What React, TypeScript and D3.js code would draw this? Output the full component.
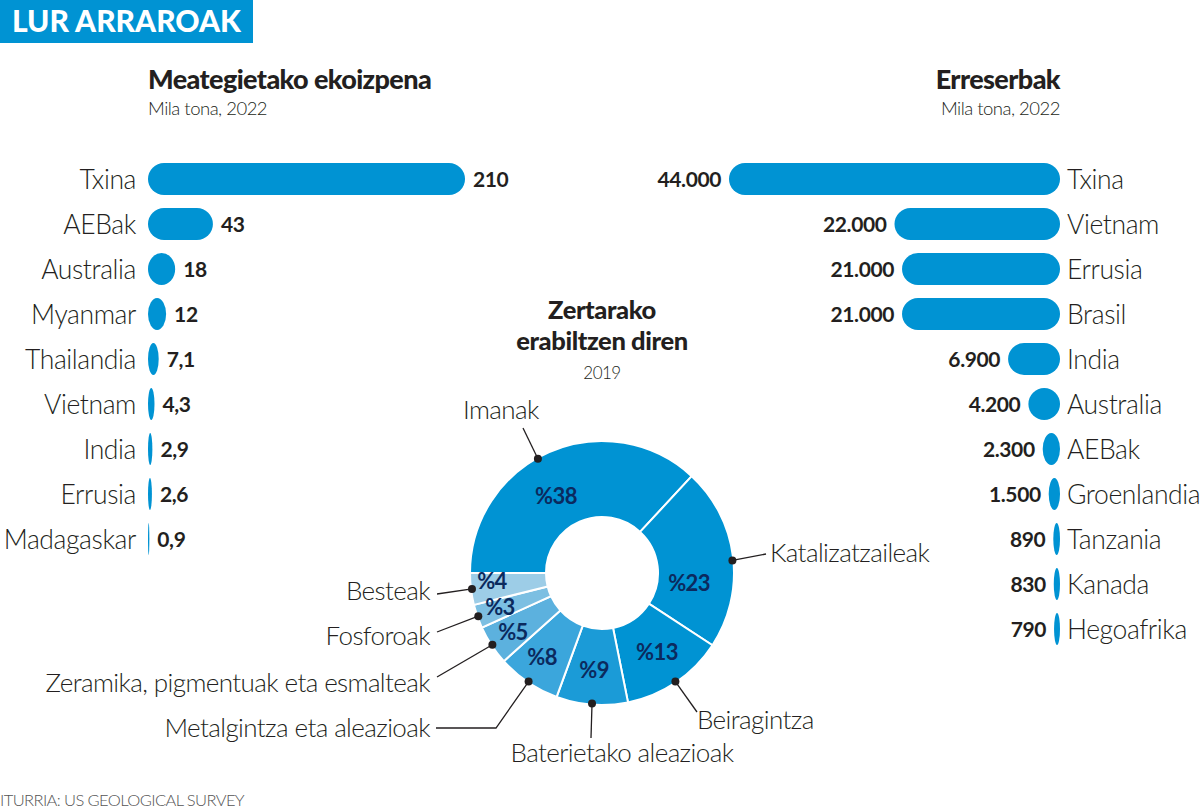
import React from "react";
import * as d3 from "d3";

// ---------- DATA ----------
const prodCountries = ["Txina", "AEBak", "Australia", "Myanmar", "Thailandia", "Vietnam", "India", "Errusia", "Madagaskar"];
const prodValues = [210, 43, 18, 12, 7.1, 4.3, 2.9, 2.6, 0.9];

const resCountries = ["Txina", "Vietnam", "Errusia", "Brasil", "India", "Australia", "AEBak", "Groenlandia", "Tanzania", "Kanada", "Hegoafrika"];
const resValues = [44000, 22000, 21000, 21000, 6900, 4200, 2300, 1500, 890, 830, 790];

const useLabels = ["Imanak", "Katalizatzaileak", "Beiragintza", "Baterietako aleazioak", "Metalgintza eta aleazioak", "Zeramika, pigmentuak eta esmalteak", "Fosforoak", "Besteak"];
const useValues = [38, 23, 13, 9, 8, 5, 3, 4];

// ---------- STYLE / LAYOUT ----------
const BLUE = "#0093d3";
const DARK = "#231f20";
const NAVY = "#0b2a5e";
const useColors = ["#0093d3", "#0093d3", "#0093d3", "#1b9bd7", "#3ba6dc", "#5cb1de", "#7cbfe2", "#9dcde7"];
const FONT = "Lato, 'Open Sans', sans-serif";

// percent-label placement (polar: degrees clockwise from top, radius)
const pctPos = [
  [-30.9, 89.7], [96.6, 87.6], [145.2, 96.3], [184.7, 97.3], [215.5, 103.2], [236.5, 106.8], [251.6, 107.5], [265.8, 110.3],
];
// callout layout: dot angle shift, line end points, text pos, anchor
const callouts = [
  { shift: -5.7, pts: [[523, 428]], tx: 463, ty: 419, anchor: "start" },
  { shift: 1.5, pts: [[766, 554]], tx: 770, ty: 562, anchor: "start" },
  { shift: 0, pts: [[697, 712]], tx: 697, ty: 729, anchor: "start" },
  { shift: 0, pts: [[591, 738]], tx: 622, ty: 762, anchor: "middle" },
  { shift: 0, pts: [[496, 728], [436, 728]], tx: 430, ty: 737, anchor: "end" },
  { shift: 0, pts: [[437, 677]], tx: 430, ty: 692, anchor: "end" },
  { shift: 0, pts: [[437, 632]], tx: 430, ty: 645, anchor: "end" },
  { shift: 0, pts: [[437, 594]], tx: 430, ty: 600, anchor: "end" },
];

export default function App() {
  const W = 1200, H = 811;
  const rowY0 = 179, rowStep = 45, barH = 32;

  const xL = d3.scaleLinear().domain([0, 210]).range([0, 317]);
  const left0 = 148;
  const xR = d3.scaleLinear().domain([0, 44000]).range([0, 331]);
  const right0 = 1060;

  const fmtRes = (v: number) => d3.format(",")(v).replace(/,/g, ".");
  const fmtProd = (v: number) => String(v).replace(".", ",");

  const cx = 602, cy = 573, rOut = 132, rIn = 56;
  const pie = d3.pie<number>().sort(null).startAngle(-Math.PI / 2).endAngle(1.5 * Math.PI);
  const arcs = pie(useValues);
  const arcGen = d3.arc<d3.PieArcDatum<number>>().innerRadius(rIn).outerRadius(rOut);
  const polar = (deg: number, r: number) => {
    const a = (deg * Math.PI) / 180;
    return [cx + r * Math.sin(a), cy - r * Math.cos(a)];
  };

  const labelStyle = { fontSize: 26.5, fontWeight: 300, letterSpacing: -0.4 } as const;

  return (
    <svg width={W} height={H} style={{ position: "absolute", left: 0, top: 0, background: "#fff" }} fontFamily={FONT}>
      <rect x={0} y={0} width={253} height={43} fill={BLUE} />
      <text x={12} y={32} fill="#fff" fontSize={30} fontWeight={900} letterSpacing={0}>LUR ARRAROAK</text>

      <text x={148} y={89} fill={DARK} fontSize={27} fontWeight={900} letterSpacing={-0.6}>Meategietako ekoizpena</text>
      <text x={148} y={115} fill={DARK} fontSize={18.5} fontWeight={300} letterSpacing={-0.5}>Mila tona, 2022</text>

      <text x={1060} y={89} textAnchor="end" fill={DARK} fontSize={27} fontWeight={900} letterSpacing={-0.6}>Erreserbak</text>
      <text x={1060} y={115} textAnchor="end" fill={DARK} fontSize={18.5} fontWeight={300} letterSpacing={-0.5}>Mila tona, 2022</text>

      {prodValues.map((v, i) => {
        const y = rowY0 + i * rowStep;
        const w = xL(v);
        return (
          <g key={"p" + i}>
            <rect x={left0} y={y - barH / 2} width={w} height={barH} rx={Math.min(w / 2, barH / 2)} ry={barH / 2} fill={BLUE} />
            <text x={136} y={y + 9.5} textAnchor="end" fill={DARK} {...labelStyle}>{prodCountries[i]}</text>
            <text x={left0 + w + 8} y={y + 8} fill={DARK} fontSize={21} fontWeight={700} letterSpacing={-0.4}>{fmtProd(v)}</text>
          </g>
        );
      })}

      {resValues.map((v, i) => {
        const y = rowY0 + i * rowStep;
        const w = xR(v);
        return (
          <g key={"r" + i}>
            <rect x={right0 - w} y={y - barH / 2} width={w} height={barH} rx={Math.min(w / 2, barH / 2)} ry={barH / 2} fill={BLUE} />
            <text x={1067} y={y + 9.5} fill={DARK} {...labelStyle}>{resCountries[i]}</text>
            <text x={right0 - w - 8} y={y + 8} textAnchor="end" fill={DARK} fontSize={21} fontWeight={700} letterSpacing={-0.4}>{fmtRes(v)}</text>
          </g>
        );
      })}

      <text x={cx} y={319} textAnchor="middle" fill={DARK} fontSize={25.5} fontWeight={900} letterSpacing={-0.4}>Zertarako</text>
      <text x={cx} y={350} textAnchor="middle" fill={DARK} fontSize={25.5} fontWeight={900} letterSpacing={-0.4}>erabiltzen diren</text>
      <text x={cx} y={379} textAnchor="middle" fill={DARK} fontSize={17} fontWeight={300} letterSpacing={-0.5}>2019</text>

      <g transform={`translate(${cx},${cy})`}>
        {arcs.map((a, i) => (
          <path key={"a" + i} d={arcGen(a) || ""} fill={useColors[i]} stroke="#fff" strokeWidth={2} />
        ))}
      </g>
      {arcs.map((a, i) => {
        const [px, py] = polar(pctPos[i][0], pctPos[i][1]);
        return (
          <text key={"pc" + i} x={px} y={py + 8} textAnchor="middle" fill={NAVY} fontSize={22} fontWeight={700} letterSpacing={-0.6}>{"%" + useValues[i]}</text>
        );
      })}

      {arcs.map((a, i) => {
        const c = callouts[i];
        const mid = (((a.startAngle + a.endAngle) / 2) * 180) / Math.PI + c.shift;
        const [dx, dy] = polar(mid, rOut - 1);
        const pts = [[dx, dy], ...c.pts];
        const line = d3.line()(pts as [number, number][]) || "";
        return (
          <g key={"c" + i}>
            <path d={line} fill="none" stroke={DARK} strokeWidth={1.3} />
            <circle cx={dx} cy={dy} r={4} fill={DARK} />
            <text x={c.tx} y={c.ty} textAnchor={c.anchor as any} fill={DARK} fontSize={26} fontWeight={300} letterSpacing={-0.6}>{useLabels[i]}</text>
          </g>
        );
      })}

      <text x={0} y={806} fill="#555" fontSize={16.5} fontWeight={300} letterSpacing={-0.6}>ITURRIA: US GEOLOGICAL SURVEY</text>
    </svg>
  );
}
